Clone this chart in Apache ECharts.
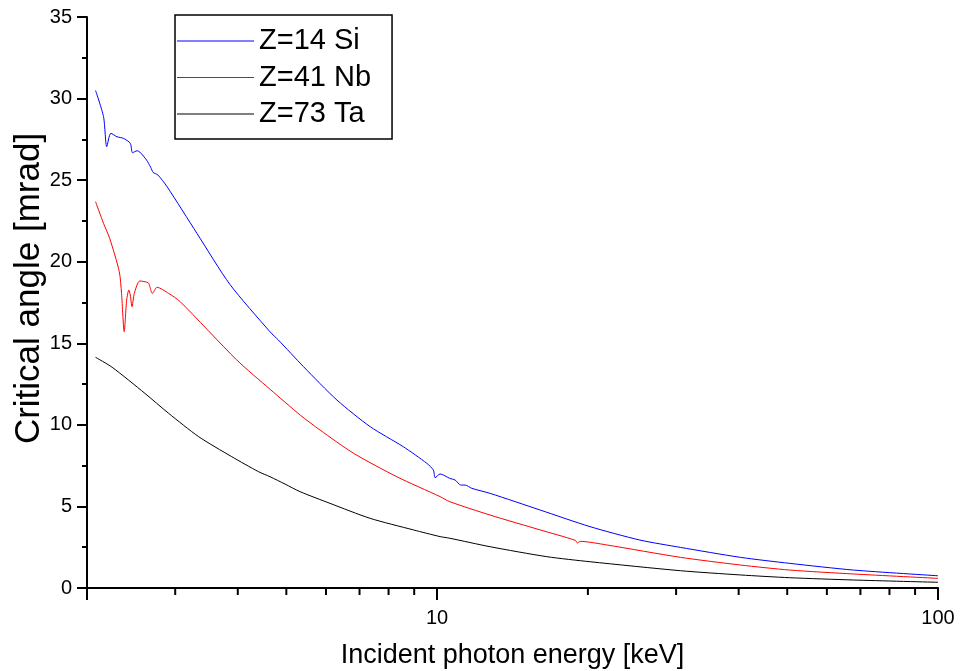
<!DOCTYPE html>
<html>
<head>
<meta charset="utf-8">
<script src="https://cdn.jsdelivr.net/npm/echarts@6/dist/echarts.min.js"></script>
<style>
  html, body { margin: 0; padding: 0; background: #fff; }
  #chart { width: 962px; height: 671px; }
</style>
</head>
<body>
<div id="chart"></div>
<script>
// Critical angle of total external reflection versus photon energy
const seriesNames = ['Z=14 Si', 'Z=41 Nb', 'Z=73 Ta'];
const seriesColors = ['#0000ff', '#ff0000', '#000000'];

// Si: energy [keV] and critical angle [mrad]
const siEnergy = [2.08, 2.158, 2.19, 2.232, 2.296, 2.365, 2.44, 2.466, 2.518, 2.55, 2.63, 2.68, 2.71, 2.77, 2.89,
  3.315, 3.86, 4.64, 4.82, 5.41, 6.31, 7.35, 8.56, 9.54, 9.83, 9.91, 10.14, 10.6, 10.86, 11.15, 11.37, 11.73,
  12.76, 16.06, 20.2, 25.4, 30.6, 40.3, 50.6, 67.8, 100];
const siAngle = [30.5, 28.89, 27.05, 27.87, 27.66, 27.56, 27.26, 26.68, 26.8, 26.72, 26.23, 25.79, 25.48, 25.32, 24.6,
  21.74, 18.6, 15.7, 15.2, 13.57, 11.52, 9.89, 8.66, 7.64, 7.23, 6.76, 6.99, 6.72, 6.62, 6.31, 6.31, 6.11,
  5.8, 4.78, 3.76, 2.94, 2.49, 1.88, 1.51, 1.1, 0.75];

// Nb
const nbEnergy = [2.08, 2.158, 2.22, 2.32, 2.344, 2.373, 2.4, 2.424, 2.44, 2.46, 2.486, 2.55, 2.65, 2.67, 2.7, 2.76,
  2.91, 3.07, 3.98, 4.64, 5.33, 5.84, 6.81, 8.31, 10.14, 10.6, 12.76, 16.06, 18.88, 19.06, 19.3, 21.8,
  30.6, 40.3, 50.6, 67.8, 100];
const nbAngle = [23.68, 22.35, 21.43, 19.39, 18.06, 15.71, 17.65, 18.27, 17.96, 17.24, 18.06, 18.82, 18.71, 18.47, 18.06, 18.43,
  18.06, 17.55, 13.98, 12.18, 10.6, 9.68, 8.26, 6.82, 5.6, 5.29, 4.47, 3.56, 2.92, 2.76, 2.86, 2.64,
  1.88, 1.41, 1.1, 0.86, 0.59];

// Ta
const taEnergy = [2.08, 2.245, 2.61, 2.91, 3.34, 3.89, 4.4, 4.64, 4.97, 5.33, 6.11, 7.35, 8.97, 10.14, 10.6,
  12.76, 16.56, 20.2, 30.6, 40.3, 50.6, 67.8, 100];
const taAngle = [14.14, 13.53, 11.93, 10.71, 9.28, 8.05, 7.13, 6.82, 6.37, 5.9, 5.19, 4.27, 3.56, 3.15, 3.05,
  2.53, 1.92, 1.61, 1.06, 0.8, 0.63, 0.49, 0.35];

// Axis settings
const xMin = 2, xMax = 100;
const yMin = 0, yMax = 35, yStep = 5;
const xLabelValues = [10, 100];
const xMinorTickValues = [3, 4, 5, 6, 7, 8, 9, 20, 30, 40, 50, 60, 70, 80, 90];

const FONT = '"Liberation Sans", Arial, sans-serif';

const zip = (xs, ys) => xs.map((x, i) => [x, ys[i]]);
const curves = [zip(siEnergy, siAngle), zip(nbEnergy, nbAngle), zip(taEnergy, taAngle)];

const chart = echarts.init(document.getElementById('chart'), null, { renderer: 'canvas' });

const lineSeries = curves.map((data, i) => ({
  name: seriesNames[i],
  type: 'line',
  data: data,
  symbol: 'none',
  showSymbol: false,
  smooth: 0.25,
  color: seriesColors[i],
  lineStyle: { color: seriesColors[i], width: 1 },
  animation: false,
  z: 3
}));

// Minor ticks of the log axis at 3..9 and 20..90
const minorTickSeries = {
  type: 'custom',
  silent: true,
  animation: false,
  clip: false,
  z: 5,
  data: xMinorTickValues.map(v => [v, yMin]),
  encode: { x: 0, y: 1 },
  renderItem: function (params, api) {
    const p = api.coord([api.value(0), api.value(1)]);
    return {
      type: 'line',
      shape: { x1: p[0], y1: p[1], x2: p[0], y2: p[1] + 7 },
      style: { stroke: '#000', lineWidth: 2 }
    };
  }
};

chart.setOption({
  backgroundColor: '#ffffff',
  animation: false,
  textStyle: { fontFamily: FONT },
  grid: { left: 87, right: 24, top: 17, bottom: 83, containLabel: false, outerBoundsMode: 'none' },
  legend: {
    data: seriesNames.map((n, i) => ({ name: n, icon: 'rect', itemStyle: { color: seriesColors[i] } })),
    orient: 'vertical',
    left: 175,
    top: 15,
    padding: [11, 21, 10, 2],
    itemWidth: 77,
    itemHeight: 1.2,
    itemGap: 6.5,
    borderColor: '#000',
    borderWidth: 1.5,
    backgroundColor: '#fff',
    selectedMode: false,
    textStyle: { fontSize: 29, color: '#000', fontFamily: FONT, lineHeight: 30 }
  },
  xAxis: {
    type: 'log',
    logBase: 10,
    min: xMin,
    max: xMax,
    name: 'Incident photon energy [keV]',
    nameLocation: 'middle',
    nameGap: 54,
    nameMoveOverlap: false,
    nameTextStyle: { fontSize: 27, color: '#000', fontFamily: FONT },
    axisLine: { show: true, lineStyle: { color: '#000', width: 2 } },
    axisTick: { show: true, length: 12, lineStyle: { color: '#000', width: 2 } },
    axisLabel: {
      fontSize: 20,
      color: '#000',
      margin: 20,
      fontFamily: FONT,
      formatter: function (v) {
        for (const t of xLabelValues) {
          if (Math.abs(v - t) < 1e-6 * t) return String(t);
        }
        return '';
      }
    },
    splitLine: { show: false },
    minorTick: { show: false },
    minorSplitLine: { show: false }
  },
  yAxis: {
    type: 'value',
    min: yMin,
    max: yMax,
    interval: yStep,
    name: 'Critical angle [mrad]',
    nameLocation: 'middle',
    nameGap: 40,
    nameMoveOverlap: false,
    nameTextStyle: { fontSize: 35, color: '#000', fontFamily: FONT, padding: [0, 0, 0, 28] },
    axisLine: { show: true, lineStyle: { color: '#000', width: 2 } },
    axisTick: { show: true, length: 10, lineStyle: { color: '#000', width: 2 } },
    minorTick: { show: true, splitNumber: 2, length: 5, lineStyle: { color: '#000', width: 2 } },
    axisLabel: { fontSize: 20, color: '#000', margin: 15, fontFamily: FONT },
    splitLine: { show: false }
  },
  series: lineSeries.concat([minorTickSeries])
});
</script>
</body>
</html>
